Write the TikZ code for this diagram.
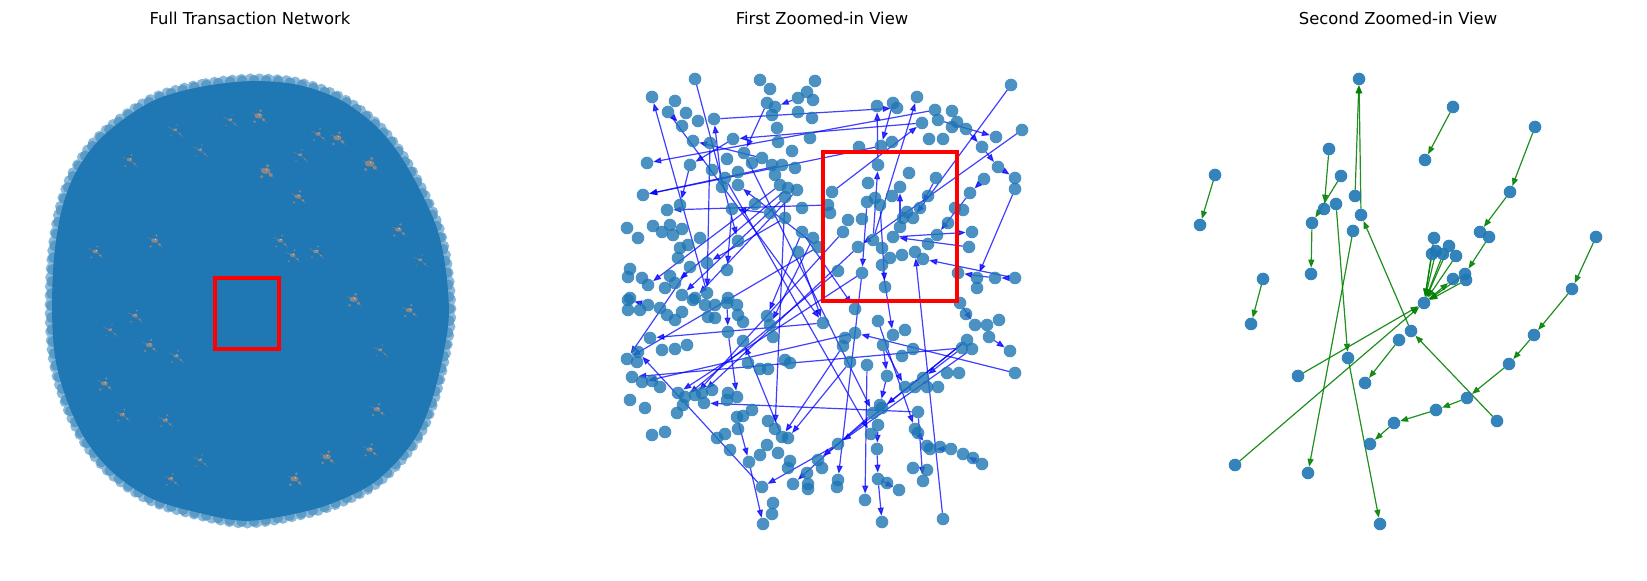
\documentclass[tikz,border=0pt]{standalone}
\usepackage{fontspec}
\setmainfont{DejaVu Sans}
\usetikzlibrary{arrows.meta}
\definecolor{mplblue}{HTML}{1F77B4}
\definecolor{mplgreen}{HTML}{008000}
\definecolor{spotc}{RGB}{200,145,105}
\newcommand{\blobshape}[1]{\path[#1] plot[smooth cycle, tension=0.55] coordinates {(251.4,75.5) (201.2,81) (154.6,93.8) (118.7,115.8) (90,141.5) (68.5,174.5) (56,211.2) (48.8,258.8) (47,313.8) (50.6,361.5) (63.1,405.5) (82.9,445.8) (111.5,478.8) (151,504.5) (201.2,519.2) (244.2,526.5) (287.3,521) (330.3,510) (373.3,489.9) (402,464.2) (423.5,434.8) (437.9,398.2) (448.6,354.2) (454,313.8) (450.4,266.2) (441.5,225.8) (423.5,185.5) (402,148.8) (376.9,119.5) (341,93.8) (298,79.1)};}
\def\pnodes{695/79, 652/97, 675/101, 668/112, 686/113, 682/126, 698/121, 714/119, 760/80, 770/89, 815/81, 807/92, 798/98, 813/100, 767/103, 775/107, 798/112, 772/115, 812/118, 777/128, 810/138, 733/139, 693/141, 710/143, 778/142, 792/151, 744/153, 647/163, 690/165, 712/170, 727/159, 762/158, 752/163, 772/165, 782/165, 795/168, 775/175, 738/172, 725/178, 722/187, 738/185, 643/195, 780/185, 788/188, 797/190, 785/197, 680/205, 732/209, 755/204, 770/213, 785/218, 802/208, 667/210, 627/228, 638/238, 653/226, 670/225, 662/232, 682/229, 673/235, 700/238, 738/241, 680/248, 688/245, 678/258, 707/263, 727/270, 690/267, 630/269, 628/277, 642/278, 648/285, 670/276, 675/283, 665/288, 682/295, 695/298, 707/293, 630/298, 728/298, 802/232, 813/238, 798/252, 818/247,
1011/85, 917/97, 877/106, 893/103, 897/108, 935/110, 952/111, 938/120, 922/123, 957/122, 952/127, 966/129, 1022/130, 929/139, 943/139, 996/137, 982/147, 859/147, 881/146, 892/142, 878/165, 909/173, 936/178, 998/167, 984/179, 1015/178, 1015/189, 970/193, 868/183, 900/187, 832/192, 928/196, 875/198, 867/202, 880/205, 892/196, 828/205, 907/212, 913/218, 920/208, 903/218, 955/208, 963/210, 830/213, 848/220, 862/219, 948/223, 900/227, 843/232, 893/237, 972/232, 937/235, 873/240, 858/247, 882/248, 928/244, 969/247, 902/255, 915/252, 890/258, 923/259, 882/265, 838/271, 862/273, 958/273, 977/278, 995/278, 1015/278, 885/287, 977/288,
628/300, 628/310, 640/310, 648/305, 660/308, 667/315, 675/320, 682/312, 693/300, 705/305, 715/305, 727/303, 737/305, 708/317, 715/318, 738/315, 743/322, 767/316, 770/325, 773/337, 728/332, 743/341, 823/323, 650/338, 662/350, 675/349, 687/345, 627/359, 638/352, 637/362, 632/377, 642/382, 652/381, 660/387, 748/363, 760/369, 768/369, 785/360, 790/363, 678/393, 685/397, 695/395, 702/393, 712/390, 704/403, 683/405, 728/393, 737/397, 727/400, 630/400, 645/408, 677/413, 737/417, 743/416, 752/410, 738/429, 768/421, 775/429, 782/437, 788/438, 767/445, 760/455, 778/453, 730/450, 725/434, 717/438, 652/435, 665/432, 749/462, 790/461, 788/468, 818/460, 822/468, 807/473, 793/484, 808/484, 808/489, 762/487, 773/503, 772/514, 763/524,
855/309, 878/321, 905/330, 893/335, 845/338, 855/333, 843/346, 883/345, 913/349, 902/356, 850/362, 867/365, 960/303, 966/314, 975/325, 987/325, 999/320, 989/337, 967/340, 962/348, 972/349, 1010/351, 1015/373, 947/373, 959/373, 887/376, 905/387, 915/387, 923/378, 927/387, 938/387, 880/405, 882/408, 873/413, 918/412, 878/425, 871/434, 915/429, 918/433, 927/446, 930/449, 940/447, 951/449, 963/454, 973/458, 982/464, 838/444, 877/449, 913/468, 927/470, 923/481, 878/479, 887/483, 899/490, 838/480, 837/487, 865/500, 882/522, 943/519}
\def\pedges{707x293/652x97, 668x112/682x126, 695x79/738x241, 798x98/775x107, 767x103/744x153, 922x123/733x139, 722x187/714x119, 762x158/693x141, 935x110/647x163, 733x139/690x165, 782x165/643x195, 881x146/643x195, 690x165/680x205, 828x205/667x210, 770x213/732x209, 785x218/707x263, 732x209/727x270, 690x267/627x359, 823x323/650x338, 962x348/632x377, 855x333/642x382, 918x412/704x403, 728x332/737x397, 737x417/749x462, 749x462/763x524, 782x437/743x341, 838x444/762x487, 873x413/793x484, 813x238/770x325, 798x252/823x323, 727x303/728x332, 762x487/638x352, 838x271/685x397, 862x273/678x393, 843x232/695x395, 858x247/702x393, 802x232/855x309, 882x265/893x335, 883x345/905x387, 887x376/880x405, 967x340/882x408, 962x348/923x378, 960x303/975x325, 989x337/1010x351, 1015x373/855x333, 878x321/915x429, 918x412/923x481, 951x449/930x449, 982x464/963x454, 878x479/899x490, 877x449/878x479, 878x425/877x449, 878x479/882x522, 867x365/865x500, 862x273/838x480, 972x349/838x444, 967x340/818x460, 943x519/915x252, 1011x85/913x218, 982x147/998x167, 1022x130/858x247, 998x167/1015x178, 1015x189/977x278, 984x179/970x193, 966x129/982x147, 938x120/996x137, 832x192/922x123, 873x240/917x97, 878x165/877x106, 893x103/881x146, 714x119/897x108, 936x178/920x208, 900x227/900x187, 970x193/937x235, 893x237/972x232, 969x247/893x237, 867x202/862x273, 1015x278/923x259, 995x278/958x273, 1015x278/995x278, 880x205/885x287, 785x197/682x295, 788x188/675x283, 797x190/695x298, 780x185/648x285, 648x305/628x300, 744x153/873x413, 785x197/775x429, 873x240/878x165, 725x178/871x434, 850x362/788x438, 668x112/823x323, 710x143/707x293, 818x247/738x185, 818x247/627x359, 883x345/887x376, 915x429/927x446, 843x346/782x437, 802x232/767x316}
\def\gnodes{A/1359/79, B/1453/107, C/1425/160, D/1535/127, E/1510/192, F/1480/232, G/1489/237, H/1596/237, I/1572/289, J/1215/175, K/1200/225, L/1329/149, M/1341/176, N/1324/209, O/1312/223, P/1311/274, Q/1355/196, R/1336/204, S/1361/215, T/1353/231, U/1263/279, hub/1424/303, ca/1434/238, cb/1436/251, cc/1432/254, cd/1443/254, ce/1449/246, cf/1456/256, cg/1465/274, ch/1466/280, ci/1453/279, V/1411/331, W/1497/421, X/1348/358, Y/1308/473, Z/1380/524, AA/1251/324, BB/1298/376, CC/1235/465, DD/1399/340, EE/1365/383, FF/1534/335, GG/1509/364, HH/1467/398, II/1436/410, JJ/1394/423, KK/1370/444}
\def\gedges{B/C, D/E, E/F, G/cg, H/I, I/FF, FF/GG, GG/HH, HH/II, II/JJ, JJ/KK, J/K, L/N, M/O, O/P, Q/A, S/A, V/S, W/V, R/X, X/Z, T/Y, U/AA, BB/hub, CC/hub, DD/EE, ca/hub, cb/hub, cc/hub, cd/hub, ce/hub, cf/hub, cg/hub, ch/hub, hub/ci}
\begin{document}
\begin{tikzpicture}[x=0.5pt, y=-0.5pt,
  ttl/.style={font=\fontsize{8.2pt}{10pt}\selectfont, text=black, inner sep=0pt},
  redbox/.style={draw=red, line width=2pt},
  pn/.style={circle, minimum size=6.3pt, inner sep=0pt, outer sep=0pt},
  be/.style={draw=blue, opacity=0.75, line width=0.6pt, -{Triangle[length=4pt,width=3pt]}},
  ge/.style={draw=mplgreen, fill=mplgreen, opacity=0.85, line width=0.6pt, -{Triangle[length=4pt,width=3pt]}},
  spot/.style={fill=spotc, opacity=0.6}]
\fill[white] (0,0) rectangle (1647,581);
\useasboundingbox (0,0) rectangle (1647,581);
% titles
\node[ttl] (t1) at (250,18) {Full Transaction Network};
\node[ttl] (t2) at (822,18) {First Zoomed-in View};
\node[ttl] (t3) at (1398,18) {Second Zoomed-in View};
% panel 1: outer translucent circles, then solid body
\begin{scope}[shift={(250.5,301)}, scale=0.985, shift={(-250.5,-301)}]
\blobshape{draw=mplblue, draw opacity=0.5, line width=5.5pt, line cap=round, dash pattern=on 0pt off 4.5pt}
\end{scope}
\begin{scope}[shift={(250.5,301)}, scale=0.978, shift={(-250.5,-301)}]
\blobshape{draw=mplblue, draw opacity=0.45, line width=5.5pt, line cap=round, dash pattern=on 0pt off 6pt, dash phase=2pt}
\end{scope}
\begin{scope}[shift={(250.5,301)}, scale=0.975, shift={(-250.5,-301)}]
\blobshape{fill=mplblue}
\end{scope}
\foreach \x/\y/\r in {258.6/115.8/3, 265.7/170.8/3.5, 369.7/163.5/3.5, 337.5/137.8/3, 398.4/229.5/2.5, 353.6/299.2/3, 409.2/310.2/2.5, 292.6/255.2/2, 316/251.5/2, 280.1/240.5/2, 154.6/240.5/2.5, 95.4/251.5/2, 134.9/315.7/2, 149.2/345/2.5, 176.1/356/1.8, 104.4/383.5/2.5, 122.3/414.7/2, 165.3/420.2/2, 326.7/456.8/3, 294.4/478.8/3, 369.7/449.5/2.5, 377/409.2/2.5, 170.7/478.8/2, 129.5/159.8/2, 298/196.5/2.5, 318/134/2, 230/120/1.5, 300/155/1.5, 200/150/1.5, 175/130/1.5, 420/260/1.5, 380/350/1.5, 110/330/1.5, 200/460/1.5}{
  \fill[spot] (\x,\y) ellipse ({0.7*\r pt} and {0.45*\r pt});
  \fill[spot] (\x+5,\y+4) circle (0.3*\r pt);
  \fill[spot] (\x-4,\y+6) circle (0.25*\r pt);
  \fill[spot] (\x+2,\y-5) circle (0.25*\r pt);
  \draw[spotc, opacity=0.4, line width=0.3pt] (\x-7,\y-3) -- (\x,\y) -- (\x+8,\y+7);
  \fill[white, opacity=0.6] (\x+1,\y-1) circle (0.35pt);
}
\draw[redbox] (214.5,278.3) rectangle (279,349.4);
% panel 2
\foreach \x/\y in \pnodes {\node[pn] (q\x x\y) at (\x,\y) {};}
\foreach \a/\b in \pedges {\draw[be] (q\a) -- (q\b);}
\foreach \x/\y in \pnodes {\fill[mplblue, opacity=0.8] (q\x x\y.center) circle (3.15pt);}
\draw[redbox] (823.3,152.3) rectangle (956.7,301);
% panel 3
\foreach \n/\x/\y in \gnodes {\node[pn] (r\n) at (\x,\y) {};}
\foreach \a/\b in \gedges {\draw[ge] (r\a) -- (r\b);}
\foreach \n/\x/\y in \gnodes {\fill[mplblue, opacity=0.9] (r\n.center) circle (3.15pt);}
\end{tikzpicture}
\end{document}
